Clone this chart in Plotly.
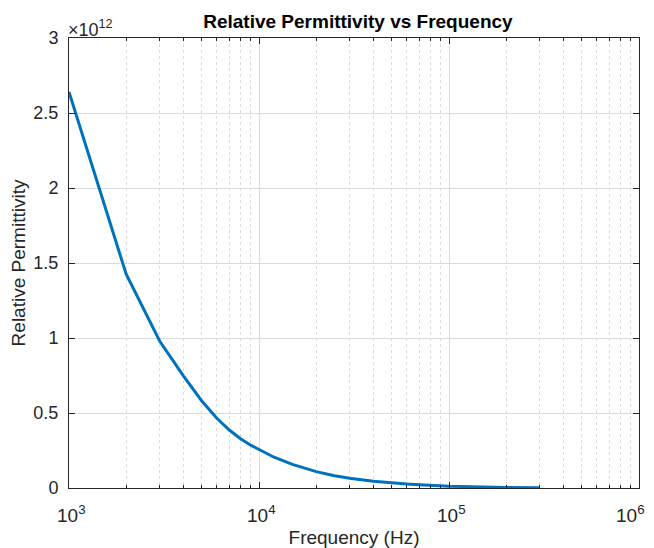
import math
import plotly.graph_objects as go

# Data (relative permittivity in units of 1e12)
freq_hz = [1000, 2000, 3000, 4000, 5000, 6000, 7000, 8000, 9000, 10000,
           12000, 15000, 20000, 25000, 30000, 40000, 50000, 60000, 70000,
           80000, 90000, 100000, 200000, 300000]
perm_e12 = [2.64, 1.425, 0.98, 0.748, 0.58, 0.465, 0.385, 0.328, 0.287, 0.258,
            0.205, 0.157, 0.109, 0.082, 0.065, 0.045, 0.033, 0.026, 0.021,
            0.017, 0.0145, 0.012, 0.004, 0.002]

x_tickvals = [1e3, 1e4, 1e5, 1e6]
x_tick_base = ["10", "10", "10", "10"]
x_tick_exp = ["3", "4", "5", "6"]
y_tickvals = [0, 0.5, 1, 1.5, 2, 2.5, 3]
y_ticktext = ["0", "0.5", "1", "1.5", "2", "2.5", "3"]

title_text = "Relative Permittivity vs Frequency"
x_title = "Frequency (Hz)"
y_title = "Relative Permittivity"
exponent_text = "\u00d710<sup>12</sup>"

FONT = "Liberation Sans, Arial, Helvetica, sans-serif"
AX = "#262626"
GRID = "#dcdcdc"

fig = go.Figure()
fig.add_trace(go.Scatter(
    x=freq_hz, y=perm_e12, mode="lines",
    line=dict(color="#0072BD", width=3),
    showlegend=False,
))

# the page body adds an 8px offset, so the figure is 8px smaller and margins shifted
fig.update_layout(
    width=646, height=540,
    margin=dict(l=61, r=15, t=30, b=60, autoexpand=False),
    paper_bgcolor="white", plot_bgcolor="white",
    font=dict(family=FONT, size=18, color=AX),
    title=dict(text="<b>" + title_text + "</b>", x=0.5417, xanchor="center",
               y=0.975, yanchor="middle", font=dict(size=19, color="black")),
)

fig.update_xaxes(
    type="log", range=[3, 6], tickvals=x_tickvals, showticklabels=False,
    showline=True, linecolor=AX, linewidth=1, mirror="ticks",
    ticks="inside", ticklen=6, tickcolor=AX,
    showgrid=True, gridcolor=GRID, gridwidth=1,
    minor=dict(ticks="inside", ticklen=3, tickcolor=AX, showgrid=True,
               gridcolor=GRID, griddash="dot", gridwidth=1, dtick="D1"),
    title=dict(text=x_title, font=dict(size=19), standoff=42),
    zeroline=False, automargin=False,
)
fig.update_yaxes(
    range=[0, 3], tickvals=y_tickvals, ticktext=y_ticktext,
    showline=True, linecolor=AX, linewidth=1, mirror="ticks",
    ticks="inside", ticklen=6, tickcolor=AX, ticklabelstandoff=6,
    showgrid=True, gridcolor=GRID, gridwidth=1,
    title=dict(text=y_title, font=dict(size=19), standoff=10),
    tickfont=dict(size=18), zeroline=False, automargin=False,
)

# x tick labels (drawn as annotations so the last one stays inside the page)
for i, (v, b, e) in enumerate(zip(x_tickvals, x_tick_base, x_tick_exp)):
    fig.add_annotation(
        text=b + "<sup>" + e + "</sup>",
        xref="x", yref="paper", x=math.log10(v), y=0,
        xanchor="center", yanchor="top", showarrow=False,
        font=dict(size=19, color=AX), yshift=-12,
        xshift=(-9 if i == len(x_tickvals) - 1 else 2),
    )

fig.add_annotation(
    text=exponent_text, xref="paper", yref="paper", x=0, y=1,
    xanchor="left", yanchor="bottom", showarrow=False,
    font=dict(size=18, color=AX), yshift=-4, xshift=-3,
)

fig.write_html("out.html")
